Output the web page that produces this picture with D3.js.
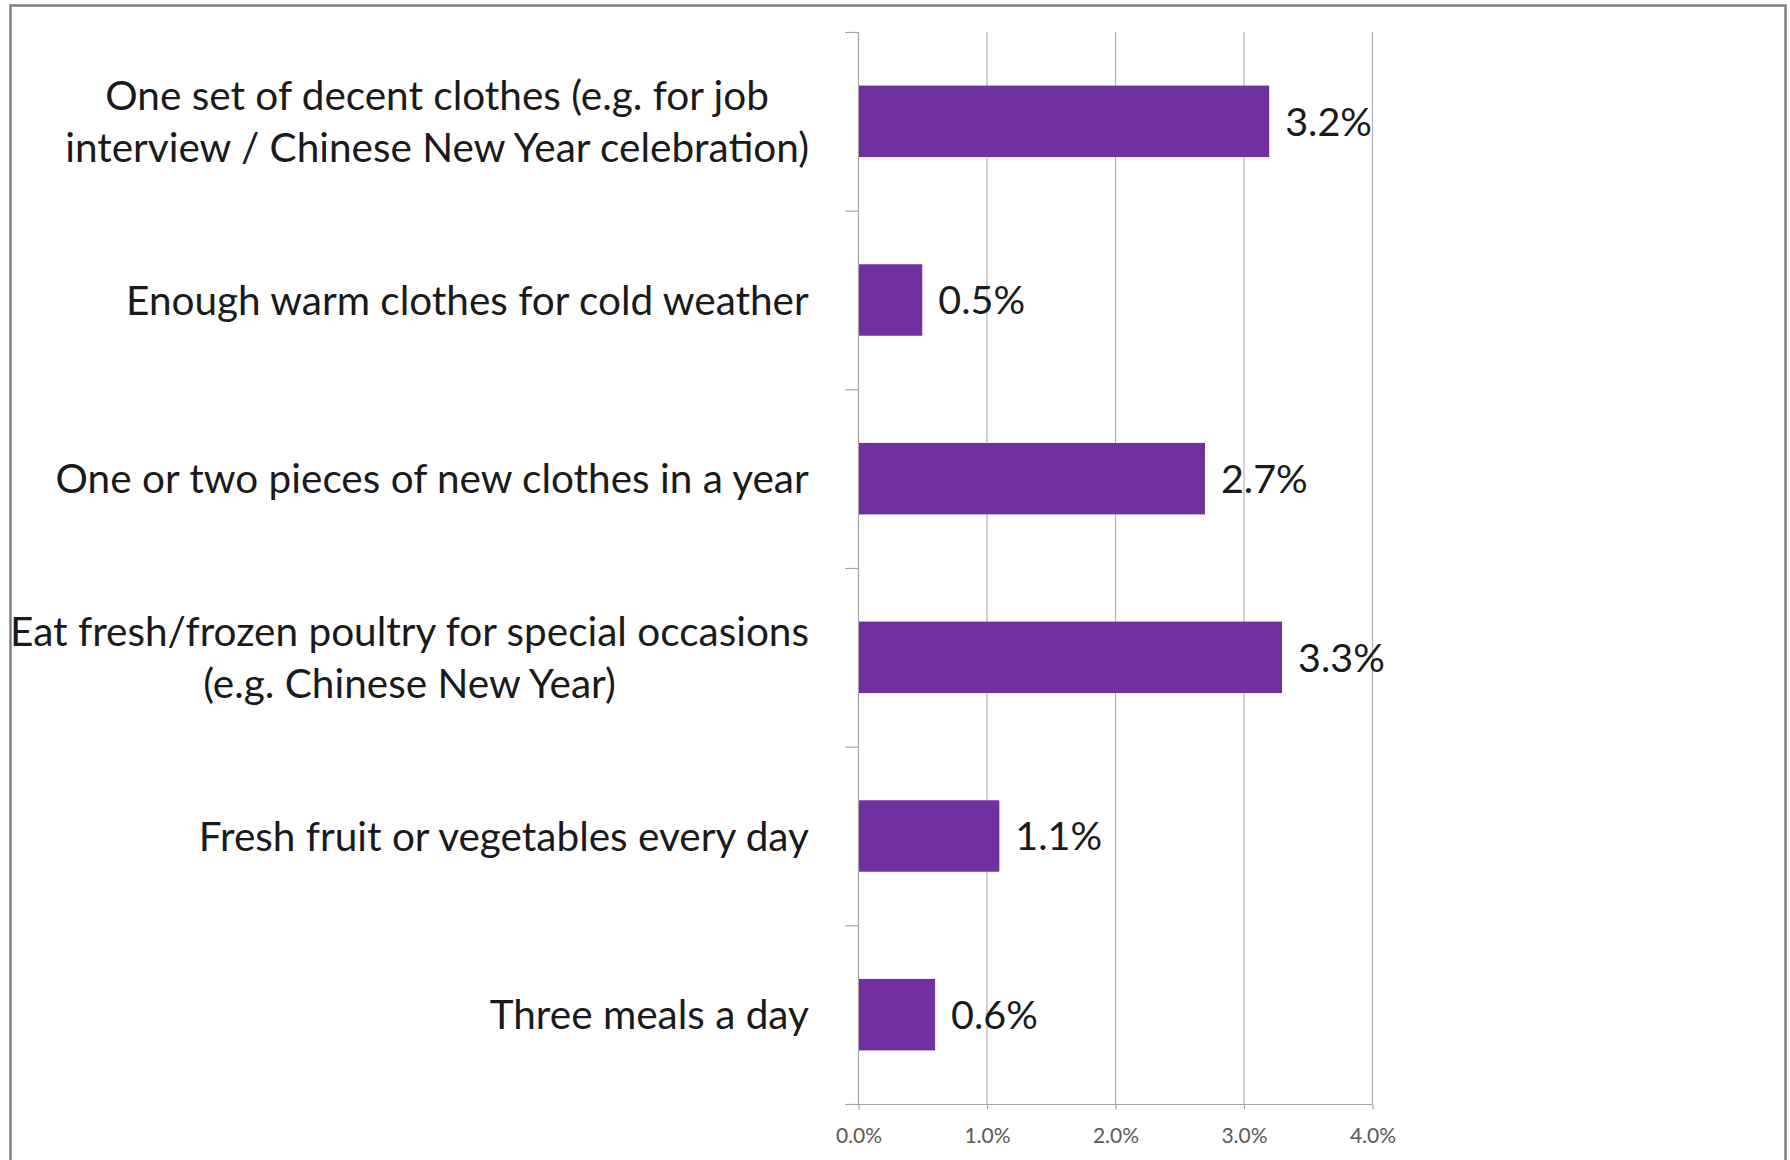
<!DOCTYPE html>
<html>
<head>
<meta charset="utf-8">
<script src="https://cdn.jsdelivr.net/npm/d3@7"></script>
<style>
  html, body { margin: 0; padding: 0; background: #ffffff; }
  svg { display: block; }
</style>
</head>
<body>
<svg id="chart" width="1790" height="1160"></svg>
<script>
// Categories (top to bottom), each split into its display lines
const categories = [
  "One set of decent clothes (e.g. for job|interview / Chinese New Year celebration)",
  "Enough warm clothes for cold weather",
  "One or two pieces of new clothes in a year",
  "Eat fresh/frozen poultry for special occasions|(e.g. Chinese New Year)",
  "Fresh fruit or vegetables every day",
  "Three meals a day"
];
// Share of respondents lacking each item
const values = [0.032, 0.005, 0.027, 0.033, 0.011, 0.006];
const valueLabels = ["3.2%", "0.5%", "2.7%", "3.3%", "1.1%", "0.6%"];
const xTicks = [0, 0.01, 0.02, 0.03, 0.04];

(function () {
  const svg = d3.select("#chart");
  const FONT = "Lato, 'Open Sans', 'DejaVu Sans', sans-serif";

  // outer frame
  svg.append("rect")
    .attr("x", 10.5).attr("y", 5.5)
    .attr("width", 1775).attr("height", 1170)
    .attr("fill", "#ffffff")
    .attr("stroke", "#7f7f7f").attr("stroke-width", 2.5);

  const plotLeft = 858, plotRight = 1372, plotTop = 32, plotBottom = 1104;

  const x = d3.scaleLinear().domain([0, 0.04]).range([plotLeft, plotRight]);
  const y = d3.scaleBand().domain(categories).range([plotTop, plotBottom])
    .paddingInner(0.6).paddingOuter(0.3);

  // vertical gridlines
  svg.append("g").selectAll("line").data(xTicks.slice(1)).join("line")
    .attr("x1", d => x(d) + 0.5).attr("x2", d => x(d) + 0.5)
    .attr("y1", plotTop).attr("y2", plotBottom)
    .attr("stroke", "#b3b3b3").attr("stroke-width", 1.2);

  // bottom axis with tick labels
  const xAxis = d3.axisBottom(x).tickValues(xTicks).tickFormat(d3.format(".1%"))
    .tickSize(5).tickPadding(19);
  const gx = svg.append("g").attr("transform", `translate(0.5,${plotBottom + 0.5})`).call(xAxis);
  gx.select(".domain").attr("stroke", "#a6a6a6").attr("stroke-width", 1.2)
    .attr("d", `M${plotLeft - 13},0H${plotRight}`);
  gx.selectAll(".tick line").attr("stroke", "#a6a6a6").attr("stroke-width", 1.2);
  gx.selectAll(".tick text")
    .attr("fill", "#595959").attr("font-family", FONT).attr("font-size", 21);

  // left axis line and category separators
  const step = y.step();
  const bounds = d3.range(categories.length + 1).map(i => plotTop + i * step);
  svg.append("line")
    .attr("x1", plotLeft + 0.5).attr("x2", plotLeft + 0.5).attr("y1", plotTop).attr("y2", plotBottom)
    .attr("stroke", "#a6a6a6").attr("stroke-width", 1.2);
  svg.append("g").selectAll("line").data(bounds).join("line")
    .attr("x1", plotLeft - 13).attr("x2", plotLeft)
    .attr("y1", d => d + 0.5).attr("y2", d => d + 0.5)
    .attr("stroke", "#a6a6a6").attr("stroke-width", 1.2);

  // bars
  svg.append("g").selectAll("rect").data(values).join("rect")
    .attr("x", x(0) + 1)
    .attr("y", (d, i) => y(categories[i]))
    .attr("width", d => x(d) - x(0) - 1)
    .attr("height", y.bandwidth())
    .attr("fill", "#7030a0");

  // value labels
  svg.append("g").selectAll("text").data(values).join("text")
    .attr("x", d => x(d) + 16)
    .attr("y", (d, i) => y(categories[i]) + y.bandwidth() / 2)
    .attr("dy", "0.36em")
    .attr("font-family", FONT).attr("font-size", 39.5).attr("fill", "#1a1a1a")
    .text((d, i) => valueLabels[i]);

  // category labels: lines centred on each other, block right-aligned
  const lineGap = 52;
  const labelRight = 809;
  categories.forEach(c => {
    const lines = c.split("|");
    const cy = y(c) + y.bandwidth() / 2;
    const t = svg.append("text")
      .attr("font-family", FONT).attr("font-size", 40.5).attr("fill", "#1a1a1a")
      .attr("text-anchor", "middle");
    lines.forEach((ln, k) => {
      t.append("tspan").attr("x", 0)
        .attr("y", cy + (k - (lines.length - 1) / 2) * lineGap)
        .attr("dy", "0.36em").text(ln);
    });
    const bb = t.node().getBBox();
    t.attr("transform", `translate(${labelRight - (bb.x + bb.width)},0)`);
  });
})();
</script>
</body>
</html>
